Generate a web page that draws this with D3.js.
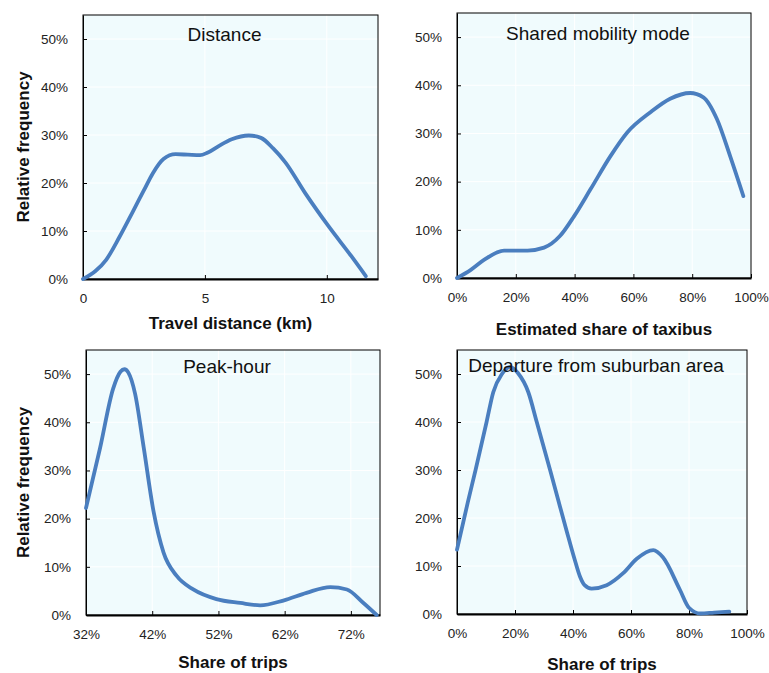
<!DOCTYPE html>
<html>
<head>
<meta charset="utf-8">
<script src="https://cdn.jsdelivr.net/npm/d3@7"></script>
<style>
  body { margin: 0; background: #fff; }
  svg { display: block; font-family: "Liberation Sans", Arial, sans-serif; }
</style>
</head>
<body>
<div id="chart"></div>
<script>
// values
const yTicks = [0, 0.1, 0.2, 0.3, 0.4, 0.5]

const distTicks = [0, 5, 10]
const distX = [0, 0.5, 0.95, 1.5, 2.04, 2.5, 2.86, 3.3, 3.8, 4.3, 4.8, 5.1, 5.6, 6.1, 6.8, 7.3, 7.8, 8.3, 9.1, 10.07, 11.0, 11.6]
const distY = [0, 0.016, 0.04, 0.088, 0.14, 0.185, 0.22, 0.25, 0.26, 0.259, 0.258, 0.263, 0.278, 0.291, 0.299, 0.294, 0.272, 0.243, 0.18, 0.11, 0.048, 0.006]

const shareTicks = [0, 0.2, 0.4, 0.6, 0.8, 1]
const modeX = [0, 0.047, 0.093, 0.16, 0.24, 0.296, 0.35, 0.398, 0.454, 0.522, 0.579, 0.658, 0.725, 0.793, 0.838, 0.884, 0.929, 0.974]
const modeY = [0, 0.017, 0.038, 0.057, 0.057, 0.063, 0.087, 0.128, 0.184, 0.253, 0.302, 0.344, 0.372, 0.384, 0.375, 0.33, 0.253, 0.17]

const peakTicks = [0.32, 0.42, 0.52, 0.62, 0.72]
const peakX = [0.32, 0.341, 0.361, 0.372, 0.378, 0.384, 0.394, 0.407, 0.422, 0.437, 0.457, 0.482, 0.517, 0.553, 0.583, 0.618, 0.653, 0.689, 0.714, 0.739, 0.759]
const peakY = [0.222, 0.345, 0.47, 0.505, 0.51, 0.503, 0.46, 0.349, 0.215, 0.13, 0.081, 0.053, 0.033, 0.025, 0.02, 0.03, 0.046, 0.058, 0.053, 0.025, 0.0]

const subX = [0, 0.037, 0.064, 0.102, 0.125, 0.155, 0.183, 0.21, 0.246, 0.275, 0.321, 0.349, 0.379, 0.405, 0.424, 0.44, 0.464, 0.516, 0.573, 0.62, 0.677, 0.71, 0.769, 0.80, 0.84, 0.887, 0.939]
const subY = [0.134, 0.232, 0.30, 0.40, 0.462, 0.50, 0.515, 0.502, 0.462, 0.40, 0.30, 0.2375, 0.171, 0.115, 0.078, 0.06, 0.053, 0.06, 0.085, 0.115, 0.133, 0.118, 0.05, 0.013, 0.001, 0.003, 0.005]

const pct = d3.format('.0%')

const panels = [
  { title: 'Distance', xTitle: 'Travel distance (km)', yTitle: true,
    xs: distX, ys: distY, ticks: distTicks, domain: [0, 12.1], fmt: d3.format('d'),
    box: [83, 378, 15, 279], titleDy: 26, xTitleDy: 50 },
  { title: 'Shared mobility mode', xTitle: 'Estimated share of taxibus', yTitle: false,
    xs: modeX, ys: modeY, ticks: shareTicks, domain: [0, 1], fmt: pct,
    box: [457, 751, 13, 278], titleDy: 27, xTitleDy: 57 },
  { title: 'Peak-hour', xTitle: 'Share of trips', yTitle: true,
    xs: peakX, ys: peakY, ticks: peakTicks, domain: [0.32, 0.764], fmt: pct,
    box: [86, 380, 350, 615], titleDy: 23, xTitleDy: 53 },
  { title: 'Departure from suburban area', xTitle: 'Share of trips', yTitle: false,
    xs: subX, ys: subY, ticks: shareTicks, domain: [0, 1], fmt: pct,
    box: [457, 747, 350, 614], titleDy: 22, xTitleDy: 56 }
]

const svg = d3.select('#chart').append('svg')
              .attr('width', 769)
              .attr('height', 673)

panels.forEach(p => {
  const [l, r, t, b] = p.box
  const x = d3.scaleLinear().domain(p.domain).range([l, r])
  const y = d3.scaleLinear().domain([0, 0.55]).range([b, t])
  const g = svg.append('g')

  g.append('rect')
   .attr('x', l).attr('y', t)
   .attr('width', r - l).attr('height', b - t)
   .attr('fill', '#f0fbfd')

  // white grid
  g.selectAll('.gx').data(p.ticks).join('line')
   .attr('x1', d => x(d)).attr('x2', d => x(d))
   .attr('y1', t).attr('y2', b)
   .attr('stroke', '#fff').attr('stroke-width', 1)
  g.selectAll('.gy').data(yTicks).join('line')
   .attr('x1', l).attr('x2', r)
   .attr('y1', d => y(d)).attr('y2', d => y(d))
   .attr('stroke', '#fff').attr('stroke-width', 1)

  g.append('rect')
   .attr('x', l).attr('y', t)
   .attr('width', r - l).attr('height', b - t)
   .attr('fill', 'none').attr('stroke', '#000').attr('stroke-width', 1)

  const xAxis = g.append('g')
    .attr('transform', `translate(0,${b})`)
    .call(d3.axisBottom(x).tickValues(p.ticks).tickFormat(p.fmt).tickSizeInner(-4).tickSizeOuter(0).tickPadding(14))
  xAxis.select('.domain').attr('stroke-width', 2)
  xAxis.selectAll('text').attr('font-size', 13.5).attr('fill', '#222').attr('font-family', null)

  const yAxis = g.append('g')
    .attr('transform', `translate(${l},0)`)
    .call(d3.axisLeft(y).tickValues(yTicks).tickFormat(pct).tickSizeInner(-4).tickSizeOuter(0).tickPadding(15))
  yAxis.selectAll('text').attr('font-size', 13.5).attr('fill', '#222').attr('font-family', null)

  const pts = p.xs.map((v, i) => [v, p.ys[i]])
  g.append('path')
   .datum(pts)
   .attr('fill', 'none')
   .attr('stroke', '#4a7ebf')
   .attr('stroke-width', 3.8)
   .attr('stroke-linecap', 'round')
   .attr('d', d3.line().x(d => x(d[0])).y(d => y(d[1])).curve(d3.curveMonotoneX))

  g.append('text')
   .attr('x', (l + r) / 2 - 6).attr('y', t + p.titleDy)
   .attr('text-anchor', 'middle')
   .attr('font-size', 19)
   .attr('fill', '#111')
   .text(p.title)

  g.append('text')
   .attr('x', (l + r) / 2).attr('y', b + p.xTitleDy)
   .attr('text-anchor', 'middle')
   .attr('font-size', 17)
   .attr('font-weight', 'bold')
   .attr('fill', '#111')
   .text(p.xTitle)

  if (p.yTitle) {
    g.append('text')
     .attr('transform', `translate(29,${(t + b) / 2}) rotate(-90)`)
     .attr('text-anchor', 'middle')
     .attr('font-size', 17)
     .attr('font-weight', 'bold')
     .attr('fill', '#111')
     .text('Relative frequency')
  }
})
</script>
</body>
</html>
